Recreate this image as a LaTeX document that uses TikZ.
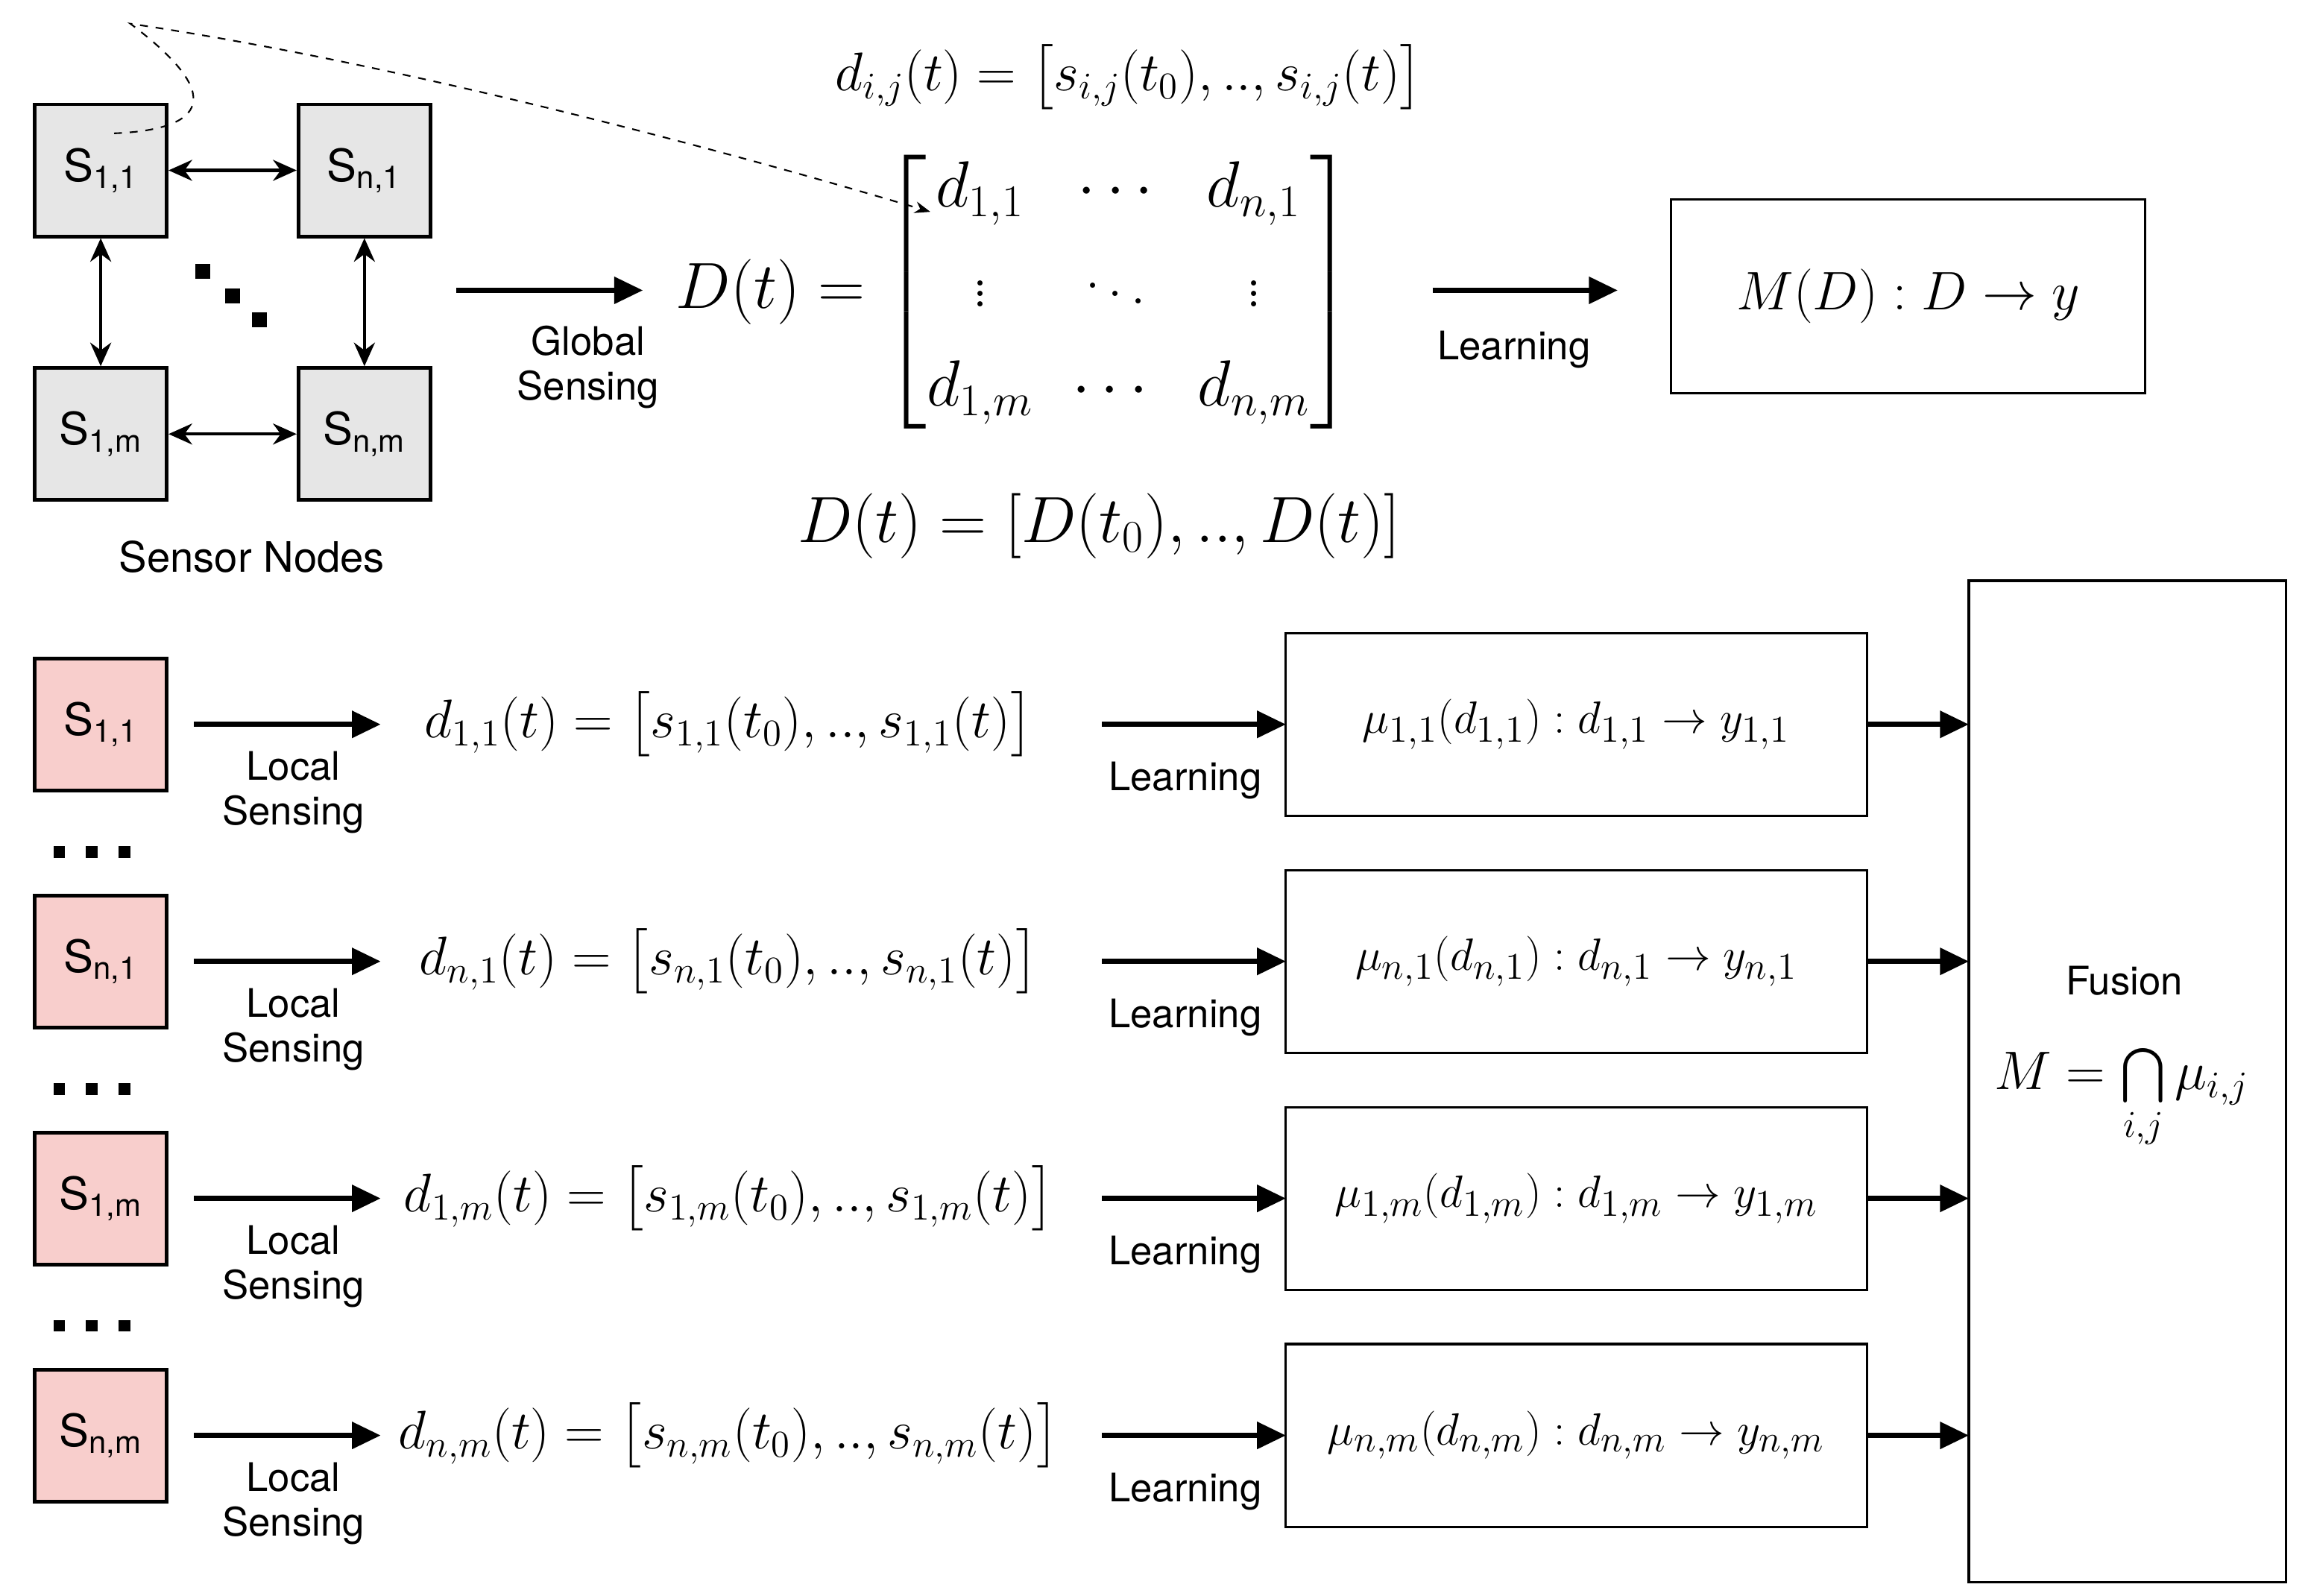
\documentclass[tikz,border=0pt]{standalone}
\usepackage{amsmath}
\usepackage{fontspec}
\setsansfont{TeX Gyre Heros}
\usetikzlibrary{arrows.meta}
\definecolor{grisnoeud}{RGB}{230,230,230}
\definecolor{rosenoeud}{RGB}{248,206,204}
\tikzstyle{capteur}=[draw,line width=1.4pt,minimum size=1.77cm,inner sep=0,font=\sffamily\fontsize{17}{17}\selectfont]
\tikzstyle{fleche}=[line width=2pt,-{Triangle[length=11pt,width=10pt]}]
\tikzstyle{double}=[line width=1.2pt,{Stealth[length=9pt,width=8pt]}-{Stealth[length=9pt,width=8pt]}]
\tikzstyle{etiq}=[font=\sffamily\fontsize{15}{17}\selectfont,align=center]
\tikzstyle{modele}=[draw,line width=0.9pt,inner sep=0]
\tikzstyle{formule}=[font=\fontsize{20}{22}\selectfont]
\begin{document}
\begin{tikzpicture}[x=0.01987cm,y=-0.01987cm]
\useasboundingbox (0,0) rectangle (1560,1077);
% noeuds capteurs
\node[capteur,fill=grisnoeud] (S11) at (68,115) {S$_{\text{1,1}}$};
\node[capteur,fill=grisnoeud] (Sn1) at (246,115) {S$_{\text{n,1}}$};
\node[capteur,fill=grisnoeud] (S1m) at (68,293) {S$_{\text{1,m}}$};
\node[capteur,fill=grisnoeud] (Snm) at (246,293) {S$_{\text{n,m}}$};
\draw[double] (S11) -- (Sn1);
\draw[double] (S1m) -- (Snm);
\draw[double] (S11) -- (S1m);
\draw[double] (Sn1) -- (Snm);
\foreach \I/\J in {137/183,157/200,175/216}
\fill (\I-5,\J-5) rectangle (\I+5,\J+5);
\node[etiq,font=\sffamily\fontsize{16}{18}\selectfont] (nom) at (170,376) {Sensor Nodes};
% capture globale
\coordinate (g1) at (308,196);
\coordinate (g2) at (434,196);
\draw[fleche] (g1) -- (g2);
\node[etiq] (glob) at (397,248) {Global\\Sensing};
\node[formule,font=\fontsize{24}{28}\selectfont] (D) at (685,197)
 {$D(t)=\begin{bmatrix} d_{1,1} & \;\cdots\; & d_{n,1}\\[10pt] \vdots & \ddots & \vdots\\[10pt] d_{1,m} & \cdots & d_{n,m}\end{bmatrix}$};
\node[formule,font=\fontsize{21}{24}\selectfont] (dij) at (762,52) {$d_{i,j}(t)=\bigl[s_{i,j}(t_0),..,s_{i,j}(t)\bigr]$};
\node[formule,font=\fontsize{25}{28}\selectfont] (Dt) at (742,355) {$D(t)=[D(t_0),..,D(t)]$};
\coordinate (c1) at (77,90);
\coordinate (c2) at (628,143);
\draw[dashed,line width=0.6pt,-{Stealth[length=6pt]}] (c1) .. controls (130,88) and (160,70) .. (88,16) .. controls (250,40) and (450,90) .. (c2);
\coordinate (l1) at (967,196);
\coordinate (l2) at (1092,196);
\draw[fleche] (l1) -- (l2);
\node[etiq] (app) at (1022,236) {Learning};
\node[modele,minimum width=6.36cm,minimum height=2.6cm,font=\fontsize{21}{24}\selectfont] (M) at (1288,200) {$M(D):D\rightarrow y$};
% capture locale
\node[modele,minimum width=4.25cm,minimum height=13.43cm] (fus) at (1436,730) {};
\node[etiq] (fustxt) at (1434,662) {Fusion};
\node[formule,font=\fontsize{22}{24}\selectfont] (fusM) at (1432,742) {$M=\bigcap\limits_{i,j}\mu_{i,j}$};
\foreach \Y/\A/\B in {489/1/1,649/n/1,809/1/m,969/n/m}{
\node[capteur,fill=rosenoeud] (L\A\B) at (68,\Y) {S$_{\text{\A,\B}}$};
\coordinate (a\A\B) at (131,\Y);
\coordinate (b\A\B) at (257,\Y);
\draw[fleche] (a\A\B) -- (b\A\B);
\node[etiq] at (198,\Y+46) {Local\\Sensing};
\node[formule] (e\A\B) at (492,\Y) {$d_{\A,\B}(t)=\bigl[s_{\A,\B}(t_0),..,s_{\A,\B}(t)\bigr]$};
\coordinate (p\A\B) at (744,\Y);
\coordinate (q\A\B) at (868,\Y);
\draw[fleche] (p\A\B) -- (q\A\B);
\node[etiq] at (800,\Y+38) {Learning};
\node[modele,minimum width=7.8cm,minimum height=2.45cm,font=\fontsize{19}{22}\selectfont] (m\A\B) at (1064,\Y) {$\mu_{\A,\B}(d_{\A,\B}):d_{\A,\B}\rightarrow y_{\A,\B}$};
\coordinate (f\A\B) at (1329,\Y);
\draw[fleche] (m\A\B) -- (f\A\B);
}
\foreach \Y in {575,735,895}
\foreach \X in {40,62,84}
\fill (\X-4,\Y-4) rectangle (\X+4,\Y+4);
\end{tikzpicture}
\end{document}
